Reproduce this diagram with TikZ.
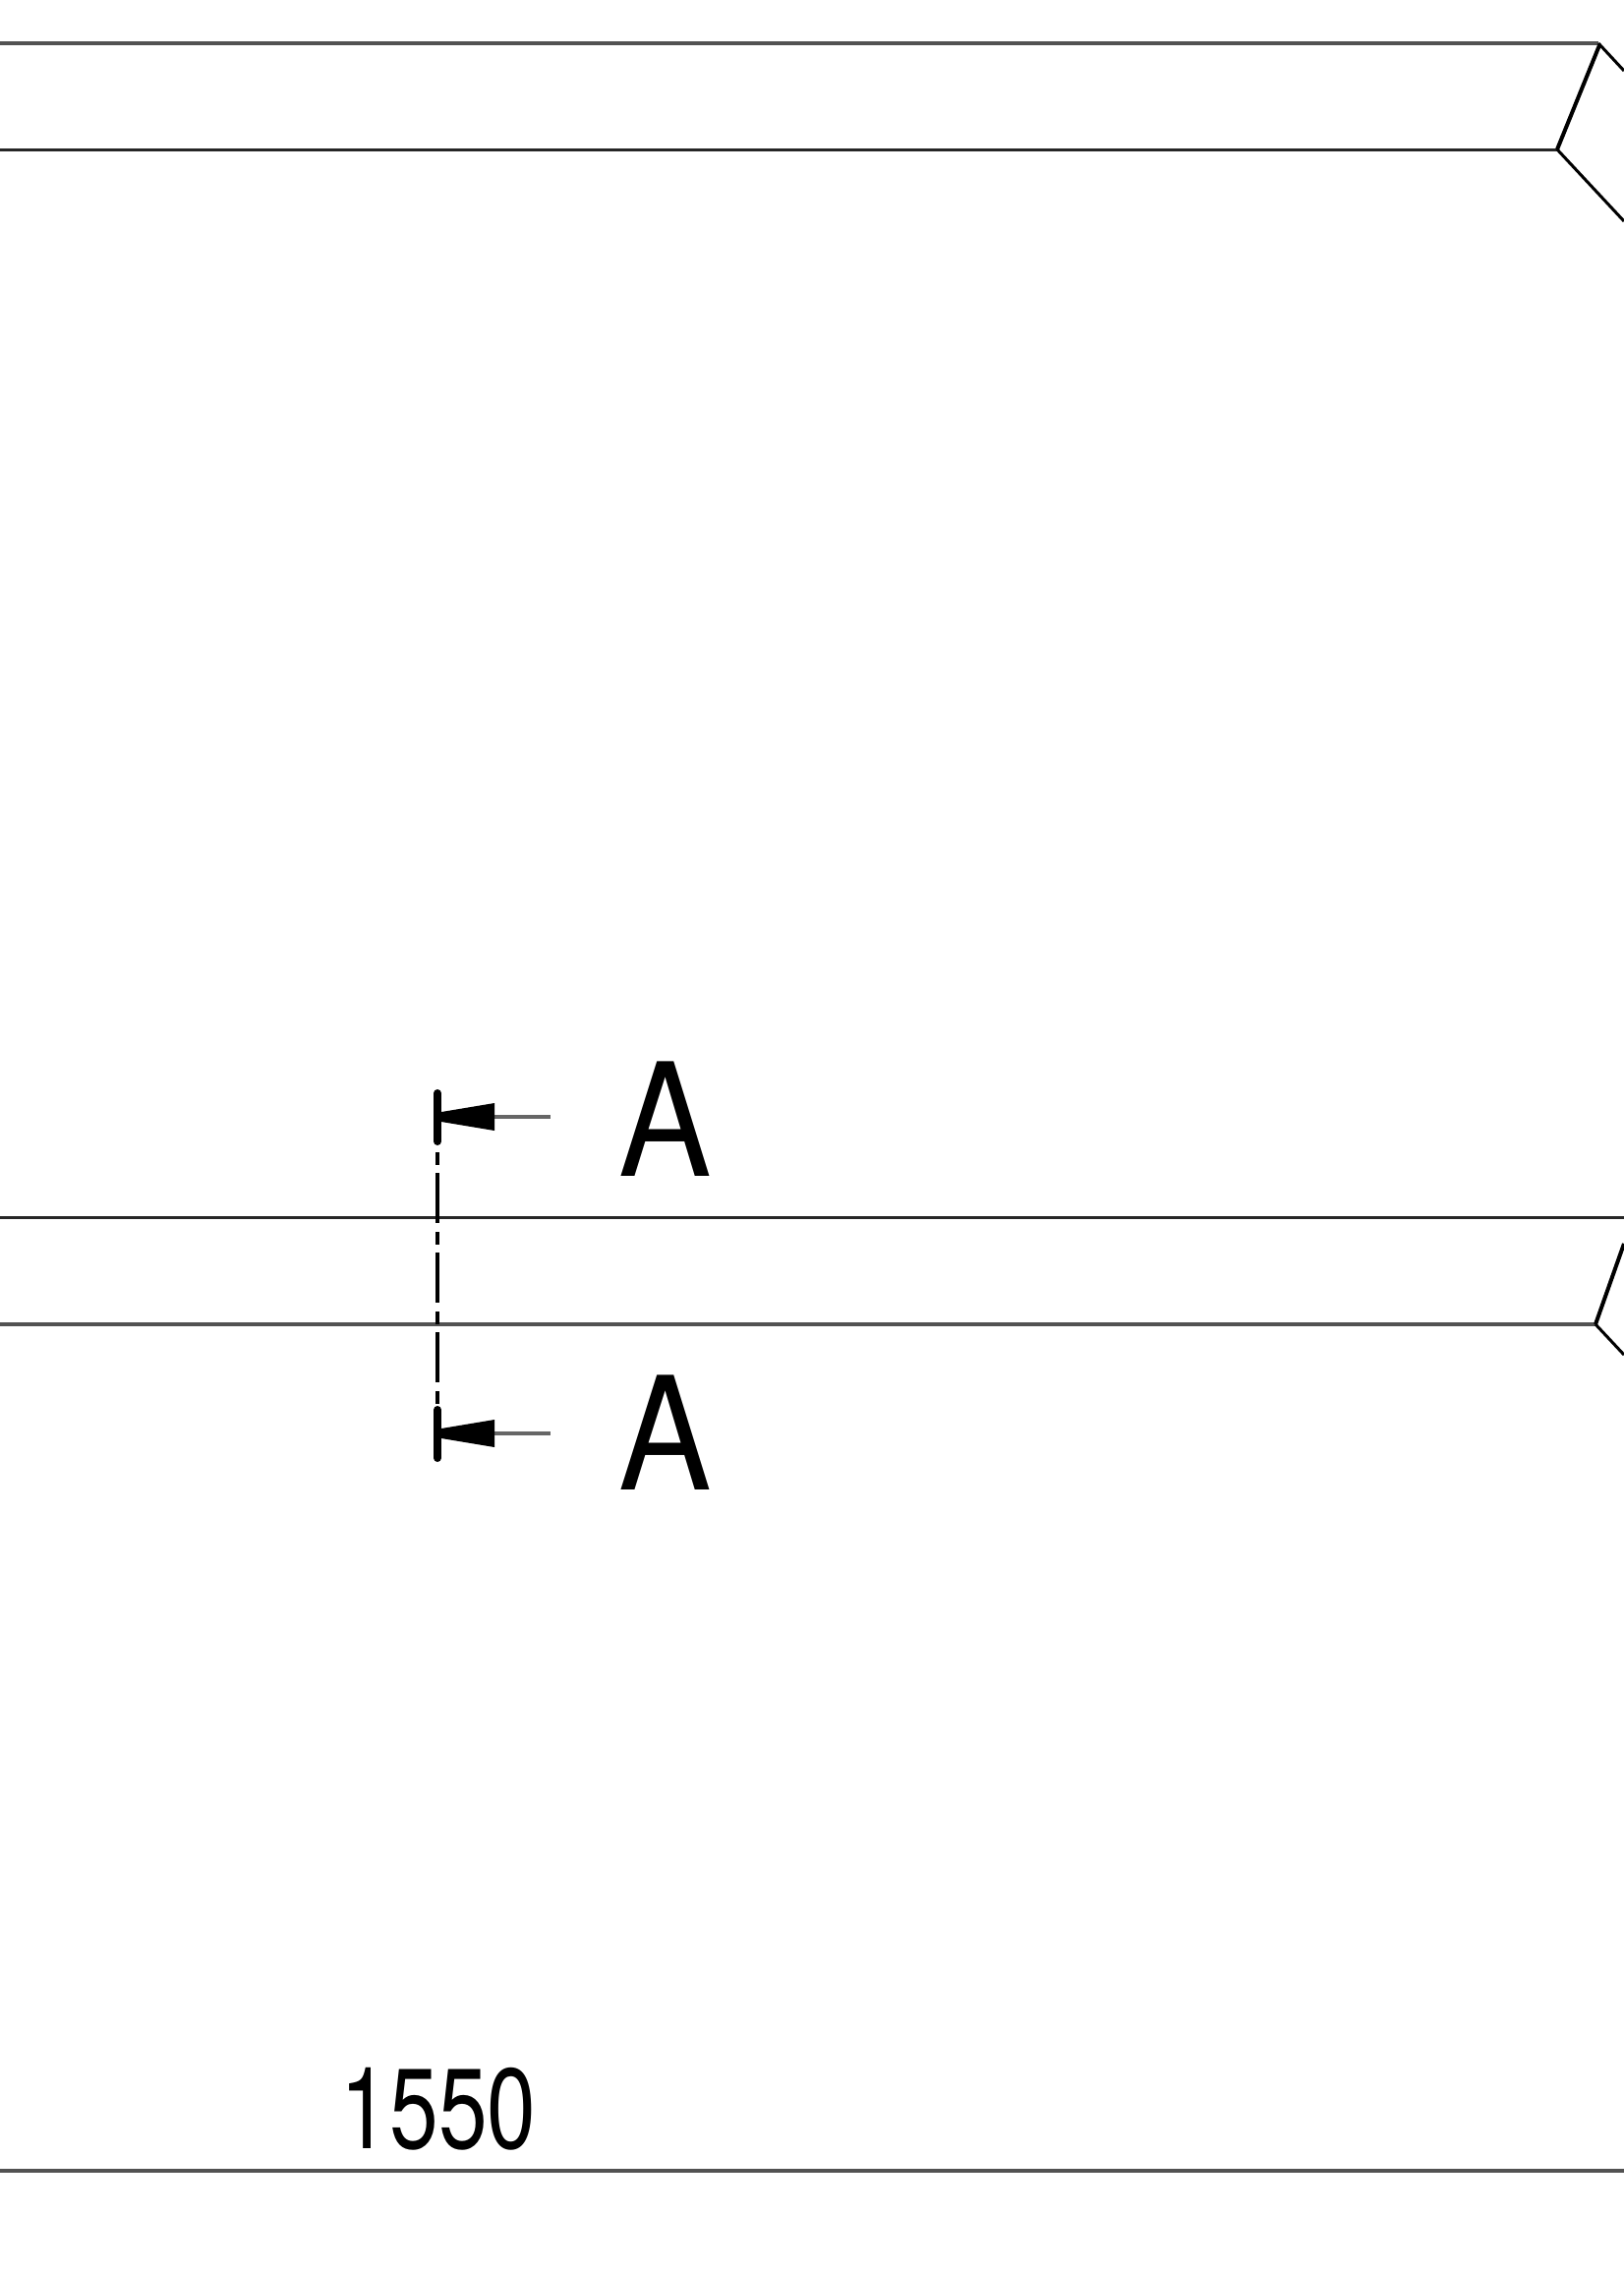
\documentclass[tikz,border=0pt]{standalone}
\usepackage{fontspec}
\newfontfamily\drawfont{TeX Gyre Heros}
\tikzset{
  greyline/.style={line width=1.7pt,draw=black!68},
  darkline/.style={line width=1.5pt,draw=black!85},
  bevel/.style={line width=2pt,draw=black},
  diagline/.style={line width=1.5pt,draw=black},
  cutline/.style={line width=1.7pt,draw=black,dash pattern=on 6.5pt off 4pt on 25.5pt off 4.5pt},
  cuttick/.style={line width=4pt,draw=black,line cap=round},
  leader/.style={line width=1.8pt,draw=black!60},
  headfill/.style={fill=black,draw=none},
  seclabel/.style={inner sep=0pt,anchor=base,xscale=0.885,transform shape,font=\drawfont\fontsize{80}{90}\selectfont},
  dimlabel/.style={inner sep=0pt,anchor=base,xscale=0.77,transform shape,font=\drawfont\fontsize{58}{62}\selectfont}
}
\begin{document}
\begin{tikzpicture}[x=0.5pt,y=-0.5pt]
\useasboundingbox (0,0) rectangle (1652,2313);
\fill[white] (0,0) rectangle (1652,2313);
% named points
\coordinate (t0) at (0,44);
\coordinate (t1) at (1626,44);
\coordinate (t2) at (1652,72);
\coordinate (u0) at (0,152);
\coordinate (u1) at (1584,152);
\coordinate (u2) at (1652,225);
\coordinate (m0) at (0,1238);
\coordinate (m1) at (1652,1238);
\coordinate (n0) at (0,1347);
\coordinate (n1) at (1623,1347);
\coordinate (n2) at (1652,1265);
\coordinate (n3) at (1652,1378);
\coordinate (b0) at (0,2208);
\coordinate (b1) at (1652,2208);
% top beam
\draw[greyline] (t0) -- (t1);
\draw[diagline] (t1) -- (t2);
\draw[darkline] (u0) -- (u1);
\draw[diagline] (u1) -- (u2);
\draw[bevel] (u1) -- (1627,46);
% middle beam
\draw[darkline] (m0) -- (m1);
\draw[greyline] (n0) -- (n1);
\draw[diagline] (n1) -- (n3);
\draw[bevel] (n1) -- (n2);
% bottom dimension line
\draw[greyline] (b0) -- (b1);
% section mark
\coordinate (c0) at (445,1172);
\coordinate (c1) at (445,1430);
\draw[cutline] (c0) -- (c1);
\draw[cuttick] (445,1112) -- (445,1161);
\draw[cuttick] (445,1434) -- (445,1483);
\draw[leader] (503,1136) -- (560,1136);
\draw[leader] (503,1458) -- (560,1458);
\fill[headfill] (449,1131) -- (503,1122) -- (503,1150) -- (449,1141) -- cycle;
\fill[headfill] (449,1453) -- (503,1444) -- (503,1472) -- (449,1463) -- cycle;
\node[seclabel] (a1) at (677,1196) {A};
\node[seclabel] (a2) at (677,1515) {A};
\node[dimlabel] (dim) at (446,2185) {1550};
\end{tikzpicture}
\end{document}
